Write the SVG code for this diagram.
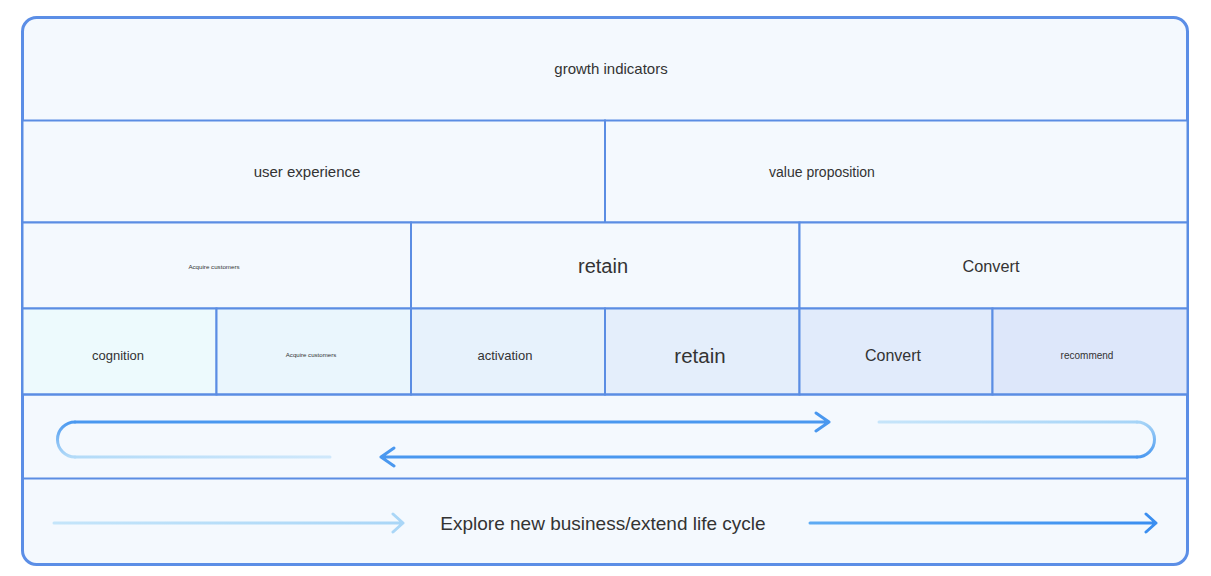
<svg xmlns="http://www.w3.org/2000/svg" width="1211" height="576" viewBox="0 0 1211 576">
<style>
.cell{stroke:#5b8de3;stroke-width:2}
.t{font-family:"Liberation Sans",Arial,sans-serif;fill:#333;text-anchor:middle;dominant-baseline:central}
.ln{fill:none;stroke-width:3;stroke-linecap:round;stroke-linejoin:round}
</style>
<defs>
<linearGradient id="gLC" gradientUnits="userSpaceOnUse" x1="0" y1="457" x2="0" y2="422"><stop offset="0" stop-color="#b3dbf8"/><stop offset="1" stop-color="#4c9af0"/></linearGradient>
<linearGradient id="gLB" gradientUnits="userSpaceOnUse" x1="75" y1="0" x2="330" y2="0"><stop offset="0" stop-color="#b3dbf8"/><stop offset="1" stop-color="#cfe8fb"/></linearGradient>
<linearGradient id="gRT" gradientUnits="userSpaceOnUse" x1="879" y1="0" x2="1137" y2="0"><stop offset="0" stop-color="#c6e5fa"/><stop offset="1" stop-color="#a6d4f7"/></linearGradient>
<linearGradient id="gRC" gradientUnits="userSpaceOnUse" x1="0" y1="422" x2="0" y2="457"><stop offset="0" stop-color="#a6d4f7"/><stop offset="1" stop-color="#4c9af0"/></linearGradient>
<linearGradient id="gBL" gradientUnits="userSpaceOnUse" x1="54" y1="0" x2="404" y2="0"><stop offset="0" stop-color="#c4e5fa"/><stop offset="1" stop-color="#a9d6f7"/></linearGradient>
<linearGradient id="gBR" gradientUnits="userSpaceOnUse" x1="810" y1="0" x2="1157" y2="0"><stop offset="0" stop-color="#5eabf3"/><stop offset="1" stop-color="#3a8ef0"/></linearGradient>
</defs>
<rect x="0" y="0" width="1211" height="576" fill="#ffffff"/>
<rect id="frame" x="22.5" y="17.5" width="1165" height="547" rx="14" fill="#f4f9fe" stroke="#5b8ee6" stroke-width="3"/>

<g id="n-growth"><text class="t" x="611" y="68" font-size="15">growth indicators</text></g>

<g id="n-ux"><rect class="cell" x="22.5" y="120.5" width="582.5" height="102" fill="#f4f9fe"/><text class="t" x="307" y="171" font-size="15">user experience</text></g>
<g id="n-value"><rect class="cell" x="605" y="120.5" width="582.5" height="102" fill="#f4f9fe"/><text class="t" x="822" y="172" font-size="14">value proposition</text></g>

<g id="n-acq1"><rect class="cell" x="22.5" y="222.5" width="388.5" height="86" fill="#f4f9fe"/><text class="t" x="214" y="266" font-size="6.2">Acquire customers</text></g>
<g id="n-retain1"><rect class="cell" x="411" y="222.5" width="388.5" height="86" fill="#f4f9fe"/><text class="t" x="603" y="266" font-size="20">retain</text></g>
<g id="n-convert1"><rect class="cell" x="799.5" y="222.5" width="388" height="86" fill="#f4f9fe"/><text class="t" x="991" y="266" font-size="16.3">Convert</text></g>

<g id="n-cognition"><rect class="cell" x="22.5" y="308.5" width="194" height="86" fill="#edfafd"/><text class="t" x="118" y="355" font-size="13">cognition</text></g>
<g id="n-acq2"><rect class="cell" x="216.5" y="308.5" width="194.5" height="86" fill="#eaf6fd"/><text class="t" x="311" y="354" font-size="6.1">Acquire customers</text></g>
<g id="n-activation"><rect class="cell" x="411" y="308.5" width="194" height="86" fill="#e7f2fc"/><text class="t" x="505" y="355" font-size="13">activation</text></g>
<g id="n-retain2"><rect class="cell" x="605" y="308.5" width="194.5" height="86" fill="#e4eefb"/><text class="t" x="700" y="355" font-size="20.5">retain</text></g>
<g id="n-convert2"><rect class="cell" x="799.5" y="308.5" width="193" height="86" fill="#e1ebfb"/><text class="t" x="893" y="355" font-size="16">Convert</text></g>
<g id="n-recommend"><rect class="cell" x="992.5" y="308.5" width="195" height="86" fill="#dde7fa"/><text class="t" x="1087" y="355" font-size="10">recommend</text></g>

<g id="n-loop"><line class="cell" x1="22.5" y1="394.5" x2="1187.5" y2="394.5"/><line class="cell" x1="22.5" y1="478.5" x2="1187.5" y2="478.5"/></g>

<g id="n-explore"><text class="t" x="603" y="523" font-size="19">Explore new business/extend life cycle</text></g>

<g id="connectors">
<path class="ln" d="M330 457 H75" stroke="url(#gLB)"/>
<path class="ln" d="M75 457 A17.5 17.5 0 0 1 75 422" stroke="url(#gLC)"/>
<path class="ln" d="M75 422 H829 M816 413 L829 422 L816 431" stroke="#4a98ef"/>
<path class="ln" d="M879 422 H1137" stroke="url(#gRT)"/>
<path class="ln" d="M1137 422 A17.5 17.5 0 0 1 1137 457" stroke="url(#gRC)"/>
<path class="ln" d="M1137 457 H381 M394 448 L381 457 L394 466" stroke="#4a98ef"/>
<path class="ln" d="M54 523 H403 M393 514 L403 523 L393 532" stroke="url(#gBL)"/>
<path class="ln" d="M810 523 H1156 M1146 514 L1156 523 L1146 532" stroke="url(#gBR)"/>
</g>
</svg>
